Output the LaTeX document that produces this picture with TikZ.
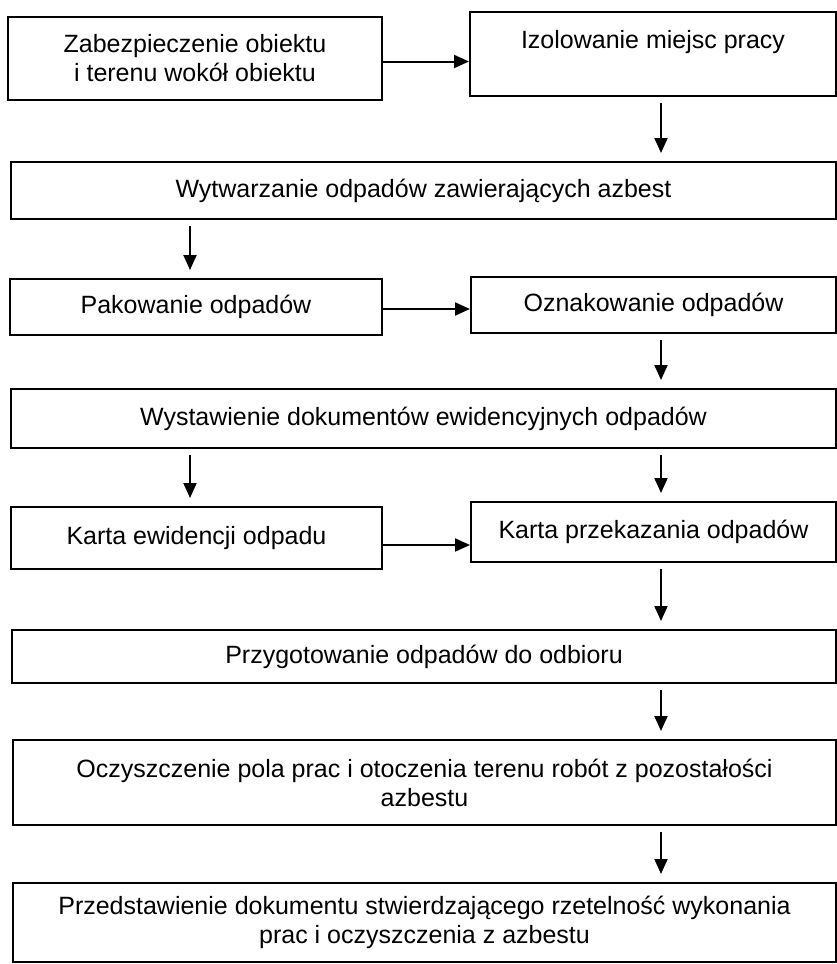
\documentclass[tikz,border=0pt]{standalone}
\usepackage{fontspec}
\setmainfont{Liberation Sans}
\usetikzlibrary{arrows.meta}

\begin{document}
\begin{tikzpicture}[x=1pt, y=-1pt,
  stepbox/.style={draw, line width=2pt, inner sep=0pt, align=center, font=\fontsize{25}{29}\selectfont},
  harrow/.style={line width=2pt, -{Triangle[length=15pt,width=13pt]}},
  varrow/.style={harrow, shorten <=6pt, shorten >=8pt}]
\useasboundingbox (0,0) rectangle (837,964);
\coordinate (lx) at (190,0);
\coordinate (rx) at (661,0);
% steps
\node[stepbox, minimum width=374, minimum height=83] (b1) at (195,58.5) {Zabezpieczenie obiektu\\i terenu wokół obiektu};
\node[stepbox, minimum width=366, minimum height=84, text depth=30pt] (b2) at (653,54) {Izolowanie miejsc pracy};
\node[stepbox, minimum width=825, minimum height=57] (b3) at (423.5,190.5) {Wytwarzanie odpadów zawierających azbest};
\node[stepbox, minimum width=372, minimum height=56] (b4) at (196,307) {Pakowanie odpadów};
\node[stepbox, minimum width=365, minimum height=56] (b5) at (653.5,305) {Oznakowanie odpadów};
\node[stepbox, minimum width=825, minimum height=59] (b6) at (423.5,418.5) {Wystawienie dokumentów ewidencyjnych odpadów};
\node[stepbox, minimum width=371, minimum height=62] (b7) at (196.5,538) {Karta ewidencji odpadu};
\node[stepbox, minimum width=365, minimum height=60] (b8) at (653.5,532) {Karta przekazania odpadów};
\node[stepbox, minimum width=824, minimum height=53] (b9) at (424,656.5) {Przygotowanie odpadów do odbioru};
\node[stepbox, minimum width=823, minimum height=85] (b10) at (424.5,782.5) {Oczyszczenie pola prac i otoczenia terenu robót z pozostałości\\azbestu};
\node[stepbox, minimum width=823, minimum height=79] (b11) at (424.5,922.5) {Przedstawienie dokumentu stwierdzającego rzetelność wykonania\\prac i oczyszczenia z azbestu};
% arrows
\foreach \from/\to/\dy in {b1/b2/-3pt, b4/b5/-2pt, b7/b8/-7pt}
  \draw[harrow] ([yshift=\dy]\from.east) -- ([yshift=\dy]\from.east -| \to.west);
\foreach \from/\to/\col in {b2/b3/rx, b3/b4/lx, b5/b6/rx, b6/b7/lx, b6/b8/rx, b8/b9/rx, b9/b10/rx, b10/b11/rx}
  \draw[varrow] (\from.south -| \col) -- (\to.north -| \col);
\end{tikzpicture}
\end{document}
